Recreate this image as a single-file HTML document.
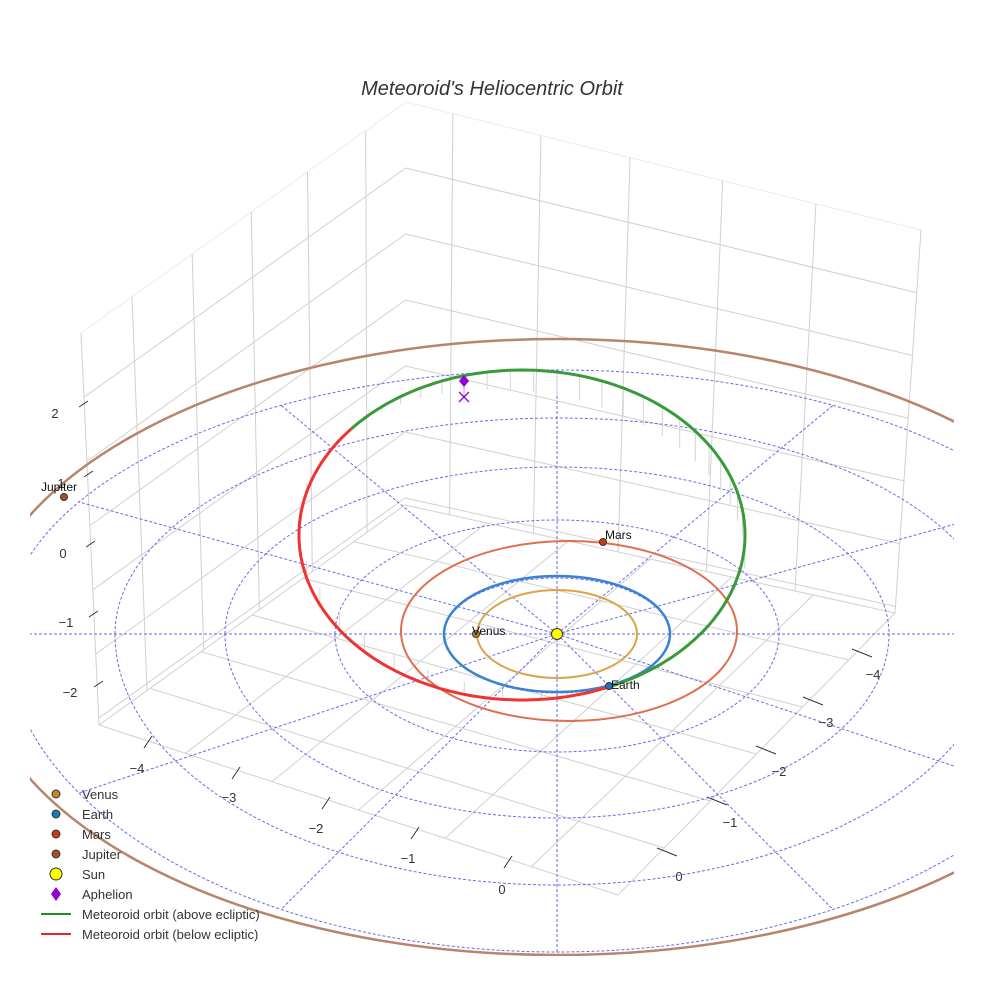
<!DOCTYPE html>
<html><head><meta charset="utf-8"><style>
html,body{margin:0;padding:0;background:#fff;}
svg{display:block;font-family:"Liberation Sans",sans-serif;}
</style></head><body>
<svg id="s" width="984" height="984" viewBox="0 0 984 984" xmlns="http://www.w3.org/2000/svg">
<defs><clipPath id="c"><rect x="30" y="0" width="924" height="956"/></clipPath></defs>
<rect width="984" height="984" fill="#fff"/>
<g id="grid" stroke="#d0d0d0" stroke-width="1" fill="none"></g>
<g id="ticks" stroke="#333" stroke-width="1"></g>
<g clip-path="url(#c)">
 <g id="dash" stroke="#6a6ae8" stroke-width="1" stroke-dasharray="3,2" fill="none"></g>
 <g id="drops" stroke="#d4d4d4" stroke-width="1"></g>
 <ellipse cx="557" cy="647" rx="583" ry="308" fill="none" stroke="#b8846c" stroke-width="2.5"/>
 <ellipse cx="569" cy="631" rx="168" ry="90" fill="none" stroke="#de6f4f" stroke-width="2"/>
 <ellipse cx="557" cy="634" rx="113" ry="58" fill="none" stroke="#3a82d2" stroke-width="2.5"/>
 <ellipse cx="557" cy="634" rx="80" ry="44" fill="none" stroke="#d9a44a" stroke-width="2"/>
 <path id="red" fill="none" stroke="#ee3333" stroke-width="3"/>
 <path id="green" fill="none" stroke="#3a9a3a" stroke-width="3"/>
</g>
<text x="492" y="95" font-size="20" font-style="italic" text-anchor="middle" fill="#333">Meteoroid's Heliocentric Orbit</text>
<g font-size="13" fill="#333" text-anchor="middle">
 <text x="55" y="418">2</text><text x="61" y="488">1</text><text x="63" y="558">0</text><text x="66" y="627">−1</text><text x="70" y="697">−2</text>
 <text x="137" y="773">−4</text><text x="229" y="802">−3</text><text x="316" y="833">−2</text><text x="408" y="863">−1</text><text x="502" y="894">0</text>
 <text x="679" y="881">0</text><text x="730" y="827">−1</text><text x="779" y="776">−2</text><text x="826" y="727">−3</text><text x="873" y="679">−4</text>
</g>
<g stroke="#333" stroke-width="1">
 <circle cx="476" cy="634" r="3.5" fill="#c8861e"/>
 <circle cx="609" cy="686" r="3.5" fill="#1f77b4"/>
 <circle cx="603" cy="542" r="3.5" fill="#c83c10"/>
 <circle cx="64" cy="497" r="3.5" fill="#a0522d"/>
 <circle cx="557" cy="634" r="5.5" fill="#ffff00"/>
</g>
<line x1="464" y1="381" x2="464" y2="397" stroke="#c0a0d8" stroke-width="1"/>
<path d="M464 375 L469 381 L464 387 L459 381Z" fill="#9400d3"/>
<path d="M459 392 L469 402 M469 392 L459 402" stroke="#9400d3" stroke-width="1.3"/>
<g font-size="12" fill="#111">
 <text x="472" y="635">Venus</text><text x="611" y="689">Earth</text><text x="605" y="539">Mars</text><text x="41" y="491">Jupiter</text>
</g>
<g font-size="13" fill="#333">
 <circle cx="56" cy="794" r="4" fill="#c8861e" stroke="#333"/><text x="82" y="799">Venus</text>
 <circle cx="56" cy="814" r="4" fill="#1f77b4" stroke="#333"/><text x="82" y="819">Earth</text>
 <circle cx="56" cy="834" r="4" fill="#c83c10" stroke="#333"/><text x="82" y="839">Mars</text>
 <circle cx="56" cy="854" r="4" fill="#a0522d" stroke="#333"/><text x="82" y="859">Jupiter</text>
 <circle cx="56" cy="874" r="6" fill="#ffff00" stroke="#333"/><text x="82" y="879">Sun</text>
 <path d="M56 887 L61 894 L56 901 L51 894Z" fill="#9400d3"/><text x="82" y="899">Aphelion</text>
 <line x1="41" y1="914" x2="71" y2="914" stroke="#228b22" stroke-width="2"/><text x="82" y="919">Meteoroid orbit (above ecliptic)</text>
 <line x1="41" y1="934" x2="71" y2="934" stroke="#ee2222" stroke-width="2"/><text x="82" y="939">Meteoroid orbit (below ecliptic)</text>
</g>
<script>
(function(){
var NS="http://www.w3.org/2000/svg";
function L(g,x1,y1,x2,y2,extra){var e=document.createElementNS(NS,"line");e.setAttribute("x1",x1);e.setAttribute("y1",y1);e.setAttribute("x2",x2);e.setAttribute("y2",y2);if(extra)for(var k in extra)e.setAttribute(k,extra[k]);document.getElementById(g).appendChild(e);}
function lerp(a,b,t){return [a[0]+(b[0]-a[0])*t,a[1]+(b[1]-a[1])*t];}
var Lt=[81,333],Bt=[406,102],Rt=[921,230],Lb=[99,725],Bb=[405,505],Rb=[895,613],Fb=[618,895];
for(var k=0;k<=6;k++){var s=Math.min(1,k*66/403);var l=lerp(Lt,Lb,s),b=lerp(Bt,Bb,s),r=lerp(Rt,Rb,s);
 var op=k==0?{stroke:"#ececec"}:null;L("grid",l[0],l[1],b[0],b[1],op);L("grid",b[0],b[1],r[0],r[1],op);}
[0,.157,.342,.524,.697,.876].forEach(function(t){var a=lerp(Lt,Bt,t),c=lerp(Lb,Bb,t);L("grid",a[0],a[1],c[0],c[1]);});
[.091,.262,.435,.615,.796,1].forEach(function(t){var a=lerp(Bt,Rt,t),c=lerp(Bb,Rb,t);L("grid",a[0],a[1],c[0],c[1]);});
function F(u,v){var a=lerp(Lb,Fb,u),b=lerp(Bb,Rb,u);return lerp(a,b,v);}
for(var i=0;i<=6;i++){var u=i/6;var p=F(u,0),q=F(u,1);L("grid",p[0],p[1],q[0],q[1]);var p2=F(0,u),q2=F(1,u);L("grid",p2[0],p2[1],q2[0],q2[1]);}
[[79,407],[84,477],[86,547],[89,617],[94,687]].forEach(function(p){L("ticks",p[0],p[1],p[0]+9,p[1]-6);});
[[148,742],[236,773],[326,803],[415,833],[508,862]].forEach(function(p){L("ticks",p[0]-4,p[1]+6,p[0]+4,p[1]-6);});
[[667,852],[717,801],[766,750],[813,701],[862,653]].forEach(function(p){L("ticks",p[0]-10,p[1]-4,p[0]+10,p[1]+4);});
var cx=557,cy=634,rs=[[113,56,59],[222,114,118],[332,167,184],[442,216,251],[552,264,318]];
var d=document.getElementById("dash");
rs.forEach(function(r){var e=document.createElementNS(NS,"path");e.setAttribute("d","M"+(cx-r[0])+" "+cy+" A"+r[0]+" "+r[1]+" 0 0 1 "+(cx+r[0])+" "+cy+" A"+r[0]+" "+r[2]+" 0 0 1 "+(cx-r[0])+" "+cy);d.appendChild(e);});
for(var a=0;a<360;a+=30){var th=a*Math.PI/180,sn=Math.sin(th);var x=cx+552*Math.cos(th),y=cy-(sn>0?264:318)*sn;
 if(a==0||a==180){x=cx+Math.cos(th)*700;}
 L("dash",cx,cy,x,y);}
var ox=522,oy=535,rx=223,ry=165;
function P(deg){var t=deg*Math.PI/180;return [ox+rx*Math.cos(t),oy+ry*Math.sin(t)];}
function arc(a0,a1){var s="",n=120;for(var i=0;i<=n;i++){var p=P(a0+(a1-a0)*i/n);s+=(i?"L":"M")+p[0].toFixed(1)+" "+p[1].toFixed(1);}return s;}
document.getElementById("red").setAttribute("d",arc(220,67));
document.getElementById("green").setAttribute("d",arc(67,-140));
for(var a2=-135;a2<65;a2+=6){var p=P(a2);var len=30*Math.sin(Math.PI*(a2+140)/207);if(p[1]<560)L("drops",p[0],p[1],p[0],p[1]+len);}
for(var a3=75;a3<215;a3+=10){var p=P(a3);var len=18*Math.sin(Math.PI*(a3-67)/153);L("drops",p[0],p[1],p[0],p[1]-len);}
})();
</script>
</svg>
</body></html>
